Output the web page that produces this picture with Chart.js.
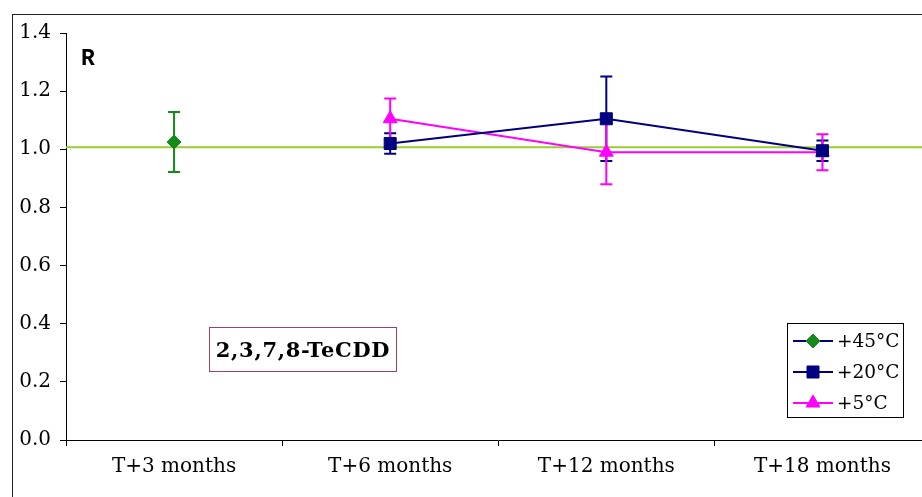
<!DOCTYPE html>
<html>
<head>
<meta charset="utf-8">
<script src="https://cdn.jsdelivr.net/npm/chart.js@4/dist/chart.umd.min.js"></script>
<style>
  html, body { margin: 0; padding: 0; background: #fff; overflow: hidden; }
  body { width: 922px; height: 497px; position: relative; }
  #frame {
    position: absolute; left: 12px; top: 14px; width: 1000px; height: 1000px;
    border-left: 1px solid #222; border-top: 1px solid #222;
  }
  #wrap { position: absolute; left: 0; top: 0; width: 940px; height: 497px; }
  #r-label {
    position: absolute; left: 81px; top: 46px;
    font: bold 23px "Liberation Mono", "DejaVu Sans Mono", monospace; color: #000;
  }
  #compound {
    position: absolute; left: 209px; top: 327px; width: 188px; height: 45px;
    border: 1px solid #a0406a; box-sizing: border-box;
    font: bold 21px "DejaVu Serif", serif; color: #000;
    display: flex; align-items: center; justify-content: center; letter-spacing: 0.7px;
  }
</style>
</head>
<body>
<div id="frame"></div>
<div id="wrap"><canvas id="ratio-chart"></canvas></div>
<div id="r-label">R</div>
<div id="compound">2,3,7,8-TeCDD</div>
<script>
const categories = ['T+3 months', 'T+6 months', 'T+12 months', 'T+18 months'];
const yTicks = [0, 0.2, 0.4, 0.6, 0.8, 1.0, 1.2, 1.4];
const referenceValue = 1.007;

const seriesLabels = ['+45°C', '+20°C', '+5°C'];
const ratio45 = [1.025, null, null, null];
const error45 = [0.103, null, null, null];
const ratio20 = [null, 1.02, 1.105, 0.995];
const error20 = [null, 0.035, 0.145, 0.035];
const ratio5 = [null, 1.105, 0.99, 0.99];
const error5 = [null, 0.07, 0.11, 0.062];

const GREEN = '#15891a';
const NAVY = '#000080';
const MAGENTA = '#ff00ff';
const REF_LINE = '#9acd32';
const FONT = '"DejaVu Serif", serif';

// horizontal reference line at R = 1 and the error bars, drawn under the markers
const errorBarPlugin = {
  id: 'errorBars',
  beforeDatasetsDraw(chart) {
    const { ctx, chartArea, scales } = chart;
    const yRef = scales.y.getPixelForValue(referenceValue);
    ctx.save();
    ctx.strokeStyle = REF_LINE;
    ctx.lineWidth = 2;
    ctx.beginPath();
    ctx.moveTo(chartArea.left, yRef);
    ctx.lineTo(chartArea.right, yRef);
    ctx.stroke();

    chart.data.datasets.forEach((ds) => {
      ctx.strokeStyle = ds.errorColor;
      ctx.lineWidth = 2;
      ds.data.forEach((v, i) => {
        const err = ds.errors[i];
        if (v === null || err === null) return;
        const x = scales.x.getPixelForValue(i);
        const yTop = scales.y.getPixelForValue(v + err);
        const yBot = scales.y.getPixelForValue(v - err);
        ctx.beginPath();
        ctx.moveTo(x, yTop);
        ctx.lineTo(x, yBot);
        ctx.moveTo(x - 6, yTop);
        ctx.lineTo(x + 6, yTop);
        ctx.moveTo(x - 6, yBot);
        ctx.lineTo(x + 6, yBot);
        ctx.stroke();
      });
    });
    ctx.restore();
  },
};

// boxed legend in the bottom right corner
const boxLegendPlugin = {
  id: 'boxLegend',
  afterDraw(chart) {
    const { ctx } = chart;
    const box = { x: 787.5, y: 323.5, w: 116, h: 94 };
    ctx.save();
    ctx.fillStyle = '#fff';
    ctx.fillRect(box.x, box.y, box.w, box.h);
    ctx.strokeStyle = '#000';
    ctx.lineWidth = 1;
    ctx.strokeRect(box.x, box.y, box.w, box.h);

    chart.data.datasets.forEach((ds, i) => {
      const rowY = 341 + i * 31;
      ctx.strokeStyle = ds.borderColor;
      ctx.lineWidth = 2;
      ctx.beginPath();
      ctx.moveTo(793, rowY);
      ctx.lineTo(833, rowY);
      ctx.stroke();
      ctx.fillStyle = ds.pointBackgroundColor;
      ctx.strokeStyle = ds.pointBorderColor;
      ctx.lineWidth = 1;
      Chart.helpers.drawPoint(ctx, {
        pointStyle: ds.pointStyle,
        radius: ds.pointRadius,
        rotation: 0,
        borderWidth: 1,
      }, 813, rowY);
      ctx.fillStyle = '#000';
      ctx.font = '18.5px ' + FONT;
      ctx.textBaseline = 'middle';
      ctx.textAlign = 'left';
      ctx.fillText(ds.label, 837, rowY + 1);
    });
    ctx.restore();
  },
};

function makeSeries(label, data, errors, lineColor, markerColor, style, radius) {
  return {
    label,
    data,
    errors,
    errorColor: markerColor,
    borderColor: lineColor,
    borderWidth: 2,
    pointStyle: style,
    pointRadius: radius,
    pointBackgroundColor: markerColor,
    pointBorderColor: markerColor,
    pointBorderWidth: 1,
    spanGaps: false,
    tension: 0,
  };
}

new Chart(document.getElementById('ratio-chart'), {
  type: 'line',
  data: {
    labels: categories,
    datasets: [
      makeSeries(seriesLabels[0], ratio45, error45, NAVY, GREEN, 'rectRot', 7),
      makeSeries(seriesLabels[1], ratio20, error20, NAVY, NAVY, 'rect', 8.5),
      makeSeries(seriesLabels[2], ratio5, error5, MAGENTA, MAGENTA, 'triangle', 8),
    ],
  },
  options: {
    responsive: true,
    maintainAspectRatio: false,
    animation: false,
    layout: { padding: { left: 14, top: 33, right: 6, bottom: 0 } },
    plugins: {
      legend: { display: false },
      tooltip: { enabled: false },
    },
    scales: {
      x: {
        type: 'category',
        offset: true,
        grid: { offset: true, drawOnChartArea: false, drawTicks: true, tickLength: 6, color: '#000' },
        border: { display: true, color: '#000', width: 1 },
        ticks: { color: '#000', font: { family: FONT, size: 20 }, padding: 9, maxRotation: 0 },
        afterFit(scale) { scale.height = 57; },
      },
      y: {
        min: 0,
        max: 1.4,
        afterBuildTicks(scale) { scale.ticks = yTicks.map((v) => ({ value: v })); },
        grid: { drawOnChartArea: false, drawTicks: true, tickLength: 6, color: '#000' },
        border: { display: true, color: '#000', width: 1 },
        ticks: {
          color: '#000',
          font: { family: FONT, size: 20 },
          padding: 9,
          callback: (v) => Number(v).toFixed(1),
        },
        afterFit(scale) { scale.width = 52; },
      },
    },
  },
  plugins: [errorBarPlugin, boxLegendPlugin],
});
</script>
</body>
</html>
